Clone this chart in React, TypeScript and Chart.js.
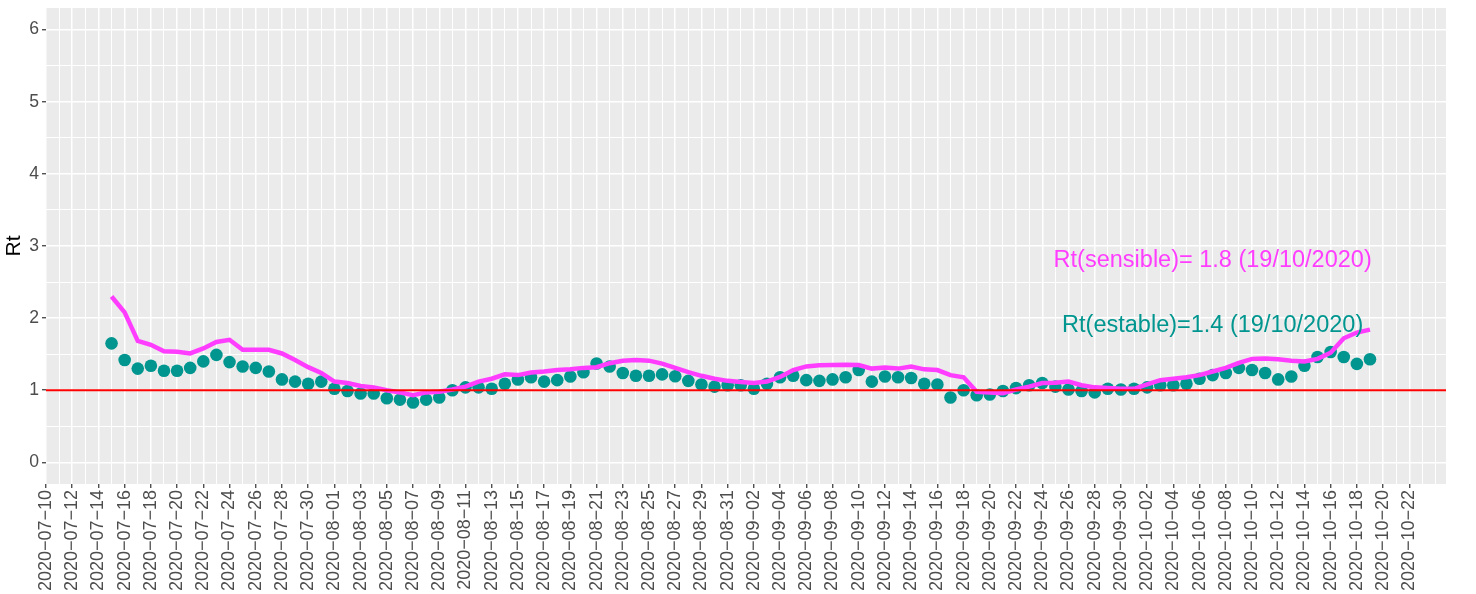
import React, { useEffect, useRef } from 'react';
import { Chart, registerables } from 'chart.js';

Chart.register(...registerables);

// ---------- data ----------
const AXIS_START = '2020-07-10';
const FIRST_DATE = '2020-07-15';

const RT_ESTABLE = [
  1.65, 1.42, 1.30, 1.34, 1.27, 1.27, 1.31, 1.40, 1.49, 1.39,
  1.33, 1.31, 1.26, 1.15, 1.12, 1.09, 1.12, 1.02, 0.99, 0.955,
  0.955, 0.89, 0.87, 0.83, 0.87, 0.90, 1.00, 1.04, 1.04, 1.02,
  1.09, 1.15, 1.18, 1.12, 1.14, 1.19, 1.25, 1.37, 1.33, 1.24,
  1.20, 1.20, 1.22, 1.195, 1.13, 1.08, 1.05, 1.07, 1.07, 1.02,
  1.09, 1.18, 1.20, 1.14, 1.13, 1.15, 1.18, 1.28, 1.12, 1.19,
  1.18, 1.17, 1.09, 1.08, 0.90, 1.00, 0.93, 0.94, 0.99, 1.03,
  1.07, 1.10, 1.05, 1.01, 0.99, 0.97, 1.02, 1.01, 1.02, 1.04,
  1.07, 1.07, 1.09, 1.16, 1.21, 1.24, 1.31, 1.28, 1.24, 1.15,
  1.19, 1.34, 1.46, 1.53, 1.46, 1.365, 1.43,
];

const RT_SENSIBLE = [
  2.30, 2.08, 1.685, 1.63, 1.54, 1.535, 1.51, 1.58, 1.67, 1.70,
  1.56, 1.56, 1.56, 1.51, 1.42, 1.32, 1.24, 1.12, 1.10, 1.06,
  1.04, 1.00, 0.97, 0.93, 0.97, 0.98, 1.01, 1.05, 1.12, 1.16,
  1.22, 1.21, 1.245, 1.26, 1.28, 1.29, 1.31, 1.32, 1.375, 1.41,
  1.42, 1.41, 1.37, 1.31, 1.25, 1.20, 1.16, 1.13, 1.115, 1.10,
  1.12, 1.185, 1.28, 1.33, 1.345, 1.35, 1.355, 1.35, 1.30, 1.315,
  1.30, 1.33, 1.29, 1.28, 1.21, 1.18, 0.98, 0.97, 0.96, 1.01,
  1.05, 1.10, 1.105, 1.12, 1.07, 1.04, 1.03, 1.02, 1.02, 1.08,
  1.14, 1.16, 1.18, 1.21, 1.26, 1.31, 1.38, 1.435, 1.44, 1.43,
  1.41, 1.40, 1.435, 1.52, 1.72, 1.80, 1.84,
];

const TICK_LABELS = [
  '2020-07-10', '2020-07-12', '2020-07-14', '2020-07-16', '2020-07-18', '2020-07-20',
  '2020-07-22', '2020-07-24', '2020-07-26', '2020-07-28', '2020-07-30', '2020-08-01',
  '2020-08-03', '2020-08-05', '2020-08-07', '2020-08-09', '2020-08-11', '2020-08-13',
  '2020-08-15', '2020-08-17', '2020-08-19', '2020-08-21', '2020-08-23', '2020-08-25',
  '2020-08-27', '2020-08-29', '2020-08-31', '2020-09-02', '2020-09-04', '2020-09-06',
  '2020-09-08', '2020-09-10', '2020-09-12', '2020-09-14', '2020-09-16', '2020-09-18',
  '2020-09-20', '2020-09-22', '2020-09-24', '2020-09-26', '2020-09-28', '2020-09-30',
  '2020-10-02', '2020-10-04', '2020-10-06', '2020-10-08', '2020-10-10', '2020-10-12',
  '2020-10-14', '2020-10-16', '2020-10-18', '2020-10-20', '2020-10-22',
];

const Y_TICKS = [0, 1, 2, 3, 4, 5, 6];
const THRESHOLD = 1;
const Y_MIN = -0.3;
const Y_MAX = 6.3;
const X_MAX_DAYS = 106.8;

const ANNOT_DATE = '2020-10-07';
const ANNOT_SENSIBLE_Y = 2.8;
const ANNOT_ESTABLE_Y = 1.9;
const LABEL_SENSIBLE = 'Rt(sensible)= 1.8 (19/10/2020)';
const LABEL_ESTABLE = 'Rt(estable)=1.4 (19/10/2020)';

// ---------- styles ----------
const MAGENTA = '#FF3DFF';
const TEAL = '#00968F';
const RED = '#FF0000';
const FONT = '"Liberation Sans", Arial, Helvetica, sans-serif';

const DAY = 86400000;
const toMs = (iso: string) => Date.parse(iso + 'T00:00:00Z');
const dayIndex = (iso: string) => Math.round((toMs(iso) - toMs(AXIS_START)) / DAY);
const addDays = (iso: string, n: number) => new Date(toMs(iso) + n * DAY).toISOString().slice(0, 10);

const DATES = RT_ESTABLE.map((_, i) => addDays(FIRST_DATE, i));
const TICK_MAP = new Map<number, string>(TICK_LABELS.map((t) => [dayIndex(t), t.replace(/-/g, '\u2212')]));

const panelPlugin = {
  id: 'ggpanel',
  beforeDraw(chart: any) {
    const { ctx, chartArea: a } = chart;
    ctx.save();
    ctx.fillStyle = '#EBEBEB';
    ctx.fillRect(a.left, a.top, a.right - a.left, a.bottom - a.top);
    ctx.restore();
  },
  afterDatasetsDraw(chart: any) {
    const { ctx, chartArea: a, scales } = chart;
    ctx.save();
    ctx.beginPath();
    ctx.rect(a.left, a.top, a.right - a.left, a.bottom - a.top);
    ctx.clip();
    const yRef = scales.y.getPixelForValue(THRESHOLD);
    ctx.strokeStyle = RED;
    ctx.lineWidth = 2;
    ctx.beginPath();
    ctx.moveTo(a.left, yRef);
    ctx.lineTo(a.right, yRef);
    ctx.stroke();

    ctx.font = `23.5px ${FONT}`;
    ctx.textAlign = 'center';
    ctx.textBaseline = 'middle';
    const x = scales.x.getPixelForValue(dayIndex(ANNOT_DATE));
    ctx.fillStyle = MAGENTA;
    ctx.fillText(LABEL_SENSIBLE, x, scales.y.getPixelForValue(ANNOT_SENSIBLE_Y));
    ctx.fillStyle = TEAL;
    ctx.fillText(LABEL_ESTABLE, x, scales.y.getPixelForValue(ANNOT_ESTABLE_Y));
    ctx.restore();
  },
};

export default function App() {
  const canvasRef = useRef<HTMLCanvasElement | null>(null);

  useEffect(() => {
    if (!canvasRef.current) return;
    const estable = DATES.map((d, i) => ({ x: dayIndex(d), y: RT_ESTABLE[i] }));
    const sensible = DATES.map((d, i) => ({ x: dayIndex(d), y: RT_SENSIBLE[i] }));

    const chart = new Chart(canvasRef.current, {
      type: 'scatter',
      data: {
        datasets: [
          {
            label: 'Rt(sensible)',
            data: sensible,
            showLine: true,
            borderColor: MAGENTA,
            borderWidth: 4.5,
            pointRadius: 0,
            pointHoverRadius: 0,
            tension: 0,
            fill: false,
            order: 1,
          } as any,
          {
            label: 'Rt(estable)',
            data: estable,
            backgroundColor: TEAL,
            borderWidth: 0,
            pointRadius: 6.3,
            pointHoverRadius: 6.3,
            order: 2,
          },
        ],
      },
      options: {
        animation: false,
        responsive: false,
        devicePixelRatio: 1,
        events: [],
        layout: { padding: { top: 8, right: 30, left: 0, bottom: 0 } },
        plugins: {
          legend: { display: false },
          tooltip: { enabled: false },
        },
        scales: {
          x: {
            type: 'linear',
            min: 0,
            max: X_MAX_DAYS,
            afterBuildTicks(scale: any) {
              const t = [];
              for (let v = 0; v <= X_MAX_DAYS; v++) t.push({ value: v });
              scale.ticks = t;
            },
            afterFit(scale: any) {
              scale.height = 110;
              scale.paddingLeft = 0;
              scale.paddingRight = 0;
            },
            border: { display: false },
            grid: {
              color: '#FFFFFF',
              lineWidth: (c: any) => (TICK_MAP.has(c.tick?.value) ? 1.5 : 1.0),
              drawTicks: true,
              tickLength: 4,
              tickWidth: 1.2,
              tickColor: (c: any) => (TICK_MAP.has(c.tick?.value) ? '#333333' : 'rgba(0,0,0,0)'),
            },
            ticks: {
              autoSkip: false,
              minRotation: 90,
              maxRotation: 90,
              padding: 2,
              color: '#4D4D4D',
              font: { family: FONT, size: 18 },
              callback: (v: any) => TICK_MAP.get(Number(v)) ?? '',
            },
          },
          y: {
            type: 'linear',
            min: Y_MIN,
            max: Y_MAX,
            afterBuildTicks(scale: any) {
              const t = [];
              for (let k = 0; k <= 12; k++) t.push({ value: k * 0.5 });
              scale.ticks = t;
            },
            afterFit(scale: any) {
              scale.width = 46;
              scale.paddingTop = 0;
              scale.paddingBottom = 0;
            },
            border: { display: false },
            grid: {
              color: '#FFFFFF',
              lineWidth: (c: any) => (Y_TICKS.includes(c.tick?.value) ? 1.5 : 1.0),
              drawTicks: true,
              tickLength: 4,
              tickWidth: 1.2,
              tickColor: (c: any) => (Y_TICKS.includes(c.tick?.value) ? '#333333' : 'rgba(0,0,0,0)'),
            },
            ticks: {
              autoSkip: false,
              padding: 3,
              color: '#4D4D4D',
              font: { family: FONT, size: 17.6 },
              callback: (v: any) => (Y_TICKS.includes(Number(v)) ? String(v) : ''),
            },
            title: {
              display: true,
              text: 'Rt',
              color: '#000000',
              font: { family: FONT, size: 21 },
              padding: { top: 2, bottom: 0 },
            },
          },
        },
      },
      plugins: [panelPlugin],
    });
    return () => chart.destroy();
  }, []);

  return (
    <div style={{ position: 'absolute', left: 0, top: 0, width: 1476, height: 594, background: '#FFFFFF' }}>
      <canvas ref={canvasRef} width={1476} height={594} style={{ display: 'block' }} />
    </div>
  );
}
